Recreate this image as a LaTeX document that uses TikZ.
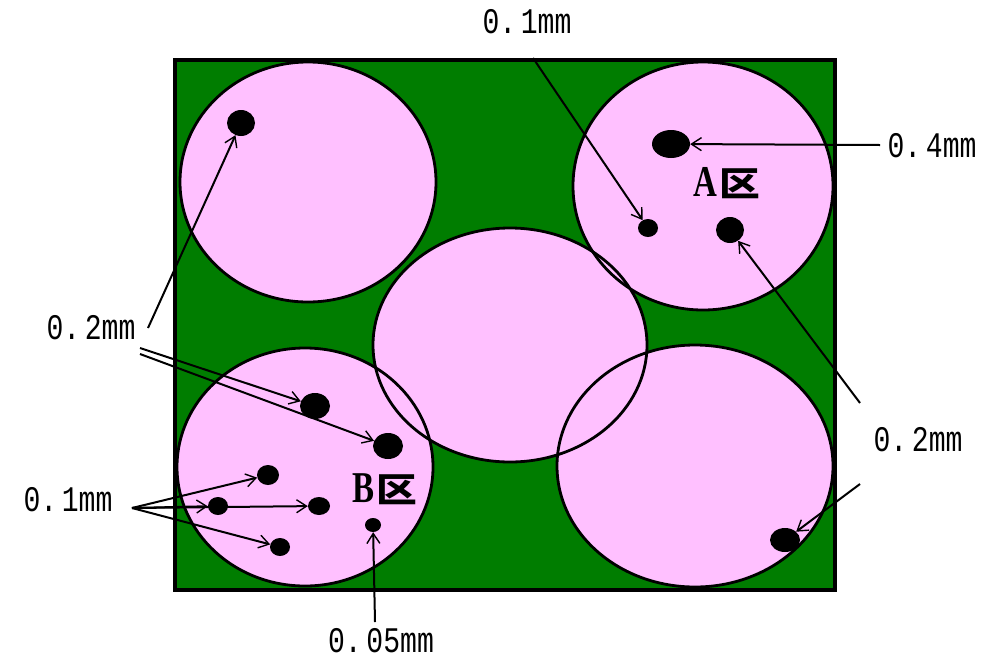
\documentclass[tikz,border=0pt]{standalone}
\usepackage{fontspec}
\usetikzlibrary{shapes.geometric,arrows.meta}
\newfontfamily\cjk{Noto Sans CJK SC}
\newfontfamily\labfont{Liberation Mono}
\newfontfamily\zonefont{Liberation Serif}
\definecolor{bggreen}{RGB}{0,125,0}
\definecolor{grainpink}{RGB}{255,192,255}
\tikzset{
  dot/.style={ellipse,fill=black,inner sep=0pt},
  lab/.style={inner sep=0pt,font=\labfont\fontsize{36}{36}\selectfont},
  zone/.style={inner sep=0pt},
  arr/.style={line width=2pt,-{Straight Barb[length=10pt,width=13pt,line width=1.4pt]}},
  outline/.style={line width=2.8pt,draw=black}
}
\newcommand{\sizetext}[1]{\scalebox{0.78}[1]{#1}}
\begin{document}
\begin{tikzpicture}[x=1pt,y=-1pt]
\useasboundingbox (0,0) rectangle (992,659);
% background
\fill[bggreen] (175,60) rectangle (835,590);
% grains (fills)
\fill[grainpink] (308,182) ellipse [x radius=128,y radius=120];
\fill[grainpink] (703,186) ellipse [x radius=130,y radius=124];
\fill[grainpink] (510,345) ellipse [x radius=137,y radius=117];
\fill[grainpink] (305,467) ellipse [x radius=128,y radius=119];
\fill[grainpink] (695,466) ellipse [x radius=138,y radius=121];
% grain outlines
\draw[outline] (308,182) ellipse [x radius=128,y radius=120];
\draw[outline] (703,186) ellipse [x radius=130,y radius=124];
\draw[outline] (510,345) ellipse [x radius=137,y radius=117];
\draw[outline] (305,467) ellipse [x radius=128,y radius=119];
\draw[outline] (695,466) ellipse [x radius=138,y radius=121];
\draw[line width=3.5pt] (175,60) rectangle (835,590);
% defects
\node[dot,minimum width=28pt,minimum height=26pt] (d1) at (241,123) {};
\node[dot,minimum width=38pt,minimum height=28pt] (d2) at (671,144) {};
\node[dot,minimum width=20pt,minimum height=18pt] (d3) at (648,228) {};
\node[dot,minimum width=28pt,minimum height=26pt] (d4) at (730,230) {};
\node[dot,minimum width=30pt,minimum height=26pt] (d5) at (315,406) {};
\node[dot,minimum width=30pt,minimum height=26pt] (d6) at (388,446) {};
\node[dot,minimum width=22pt,minimum height=20pt] (d7) at (268,475) {};
\node[dot,minimum width=20pt,minimum height=18pt] (d8) at (218,506) {};
\node[dot,minimum width=22pt,minimum height=18pt] (d9) at (319,506) {};
\node[dot,minimum width=20pt,minimum height=18pt] (d10) at (280,547) {};
\node[dot,minimum width=16pt,minimum height=14pt] (d11) at (373,525) {};
\node[dot,minimum width=30pt,minimum height=24pt] (d12) at (785,540) {};
% zone labels
\node[zone] (za) at (727,183) {\scalebox{0.75}[1]{\zonefont\bfseries\fontsize{44}{44}\selectfont A}\hspace{2pt}\scalebox{1.2}[1]{\cjk\bfseries\fontsize{34}{34}\selectfont 区}};
\node[zone] (zb) at (385,489) {\scalebox{0.75}[1]{\zonefont\bfseries\fontsize{44}{44}\selectfont B}\hspace{2pt}\scalebox{1.2}[1]{\cjk\bfseries\fontsize{34}{34}\selectfont 区}};
% size labels
\node[lab] (ltop) at (527,22) {\sizetext{0.\,1mm}};
\node[lab] (lfour) at (932,146) {\sizetext{0.\,4mm}};
\node[lab] (ltwoL) at (91,328) {\sizetext{0.\,2mm}};
\node[lab] (loneL) at (68,500) {\sizetext{0.\,1mm}};
\node[lab] (ltwoR) at (918,440) {\sizetext{0.\,2mm}};
\node[lab] (lfive) at (381,641) {\sizetext{0.\,05mm}};
% leader start points
\coordinate (stop) at (533,58);
\coordinate (sfour) at (880,145);
\coordinate (stwoA) at (148,328);
\coordinate (stwoB) at (140,348);
\coordinate (stwoC) at (140,354);
\coordinate (sone) at (132,508);
\coordinate (sfive) at (375,622);
\coordinate (srA) at (860,403);
\coordinate (srB) at (860,484);
% leaders
\draw[arr] (stop) -- (d3);
\draw[arr] (sfour) -- (d2);
\draw[arr] (stwoA) -- (d1);
\draw[arr] (stwoB) -- (d5);
\draw[arr] (stwoC) -- (d6);
\draw[arr] (sone) -- (d7);
\draw[arr] (sone) -- (d8);
\draw[arr] (sone) -- (d9);
\draw[arr] (sone) -- (d10);
\draw[arr] (sfive) -- (d11);
\draw[arr] (srA) -- (d4);
\draw[arr] (srB) -- (d12);
\end{tikzpicture}
\end{document}
